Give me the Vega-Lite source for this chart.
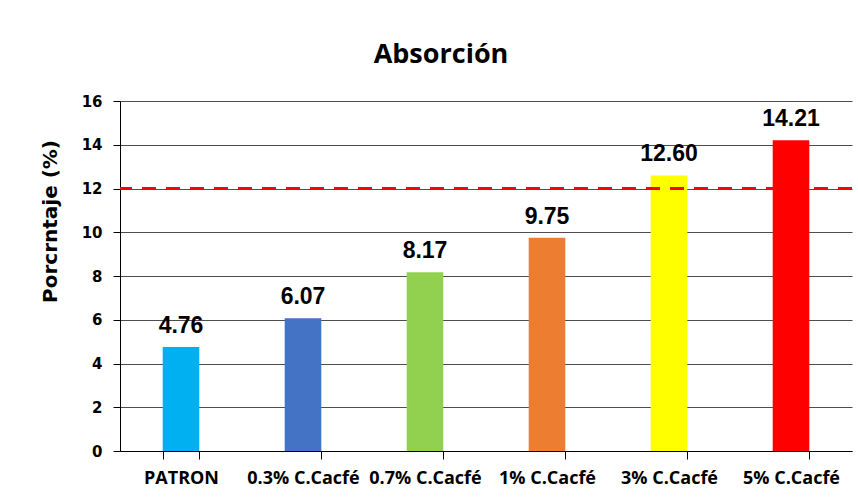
{
  "$schema": "https://vega.github.io/schema/vega-lite/v6.json",
  "width": 732,
  "height": 350,
  "autosize": {"type": "none"},
  "padding": {"left": 120, "top": 101, "right": 6, "bottom": 47},
  "background": "white",
  "title": {
    "text": "Absorción",
    "font": "Open Sans",
    "fontSize": 27,
    "fontWeight": "bold",
    "color": "black",
    "anchor": "middle",
    "frame": "group",
    "dx": -45,
    "offset": 25
  },
  "data": {
    "values": [
      {"grupo": "PATRON", "valor": 4.76},
      {"grupo": "0.3% C.Cacfé", "valor": 6.07},
      {"grupo": "0.7% C.Cacfé", "valor": 8.17},
      {"grupo": "1% C.Cacfé", "valor": 9.75},
      {"grupo": "3% C.Cacfé", "valor": 12.60},
      {"grupo": "5% C.Cacfé", "valor": 14.21}
    ]
  },
  "encoding": {
    "x": {
      "field": "grupo",
      "type": "nominal",
      "sort": null,
      "scale": {"paddingInner": 0.7, "paddingOuter": 0.35},
      "axis": {
        "title": null,
        "labelAngle": 0,
        "labelFont": "Open Sans",
        "labelFontSize": 18,
        "labelFontWeight": "bold",
        "labelColor": "black",
        "labelPadding": 10,
        "tickBand": "extent",
        "tickSize": 8,
        "tickColor": "black",
        "domainColor": "black",
        "grid": false
      }
    }
  },
  "layer": [
    {
      "mark": {"type": "bar"},
      "encoding": {
        "y": {
          "field": "valor",
          "type": "quantitative",
          "scale": {"domain": [0, 16], "nice": false},
          "axis": {
            "title": "Porcrntaje (%)",
            "titleFont": "DejaVu Sans",
            "titleFontSize": 20,
            "titleFontWeight": "bold",
            "titleColor": "black",
            "titleAngle": -90,
            "titleAlign": "center",
            "titleBaseline": "middle",
            "titleX": -70,
            "titleY": 120,
            "values": [0, 2, 4, 6, 8, 10, 12, 14, 16],
            "labelFont": "DejaVu Sans",
            "labelFontSize": 15,
            "labelFontWeight": "bold",
            "labelColor": "black",
            "labelPadding": 11,
            "tickSize": 7,
            "tickColor": "black",
            "domainColor": "black",
            "grid": true,
            "gridColor": "#4d4d4d",
            "gridWidth": 1
          }
        },
        "color": {
          "field": "grupo",
          "type": "nominal",
          "scale": {
            "domain": ["PATRON", "0.3% C.Cacfé", "0.7% C.Cacfé", "1% C.Cacfé", "3% C.Cacfé", "5% C.Cacfé"],
            "range": ["#00B0F0", "#4472C4", "#92D050", "#ED7D31", "#FFFF00", "#FF0000"]
          },
          "legend": null
        }
      }
    },
    {
      "mark": {"type": "rule", "color": "#FF0000", "strokeWidth": 3, "strokeDash": [14, 10]},
      "encoding": {
        "y": {"datum": 12, "type": "quantitative"},
        "x": null
      }
    },
    {
      "mark": {
        "type": "text",
        "font": "Liberation Sans",
        "fontSize": 23,
        "fontWeight": "bold",
        "color": "black",
        "baseline": "alphabetic",
        "dy": -14
      },
      "encoding": {
        "y": {"field": "valor", "type": "quantitative"},
        "text": {"field": "valor", "type": "quantitative", "format": ".2f"}
      }
    }
  ],
  "config": {
    "view": {"stroke": null}
  }
}
